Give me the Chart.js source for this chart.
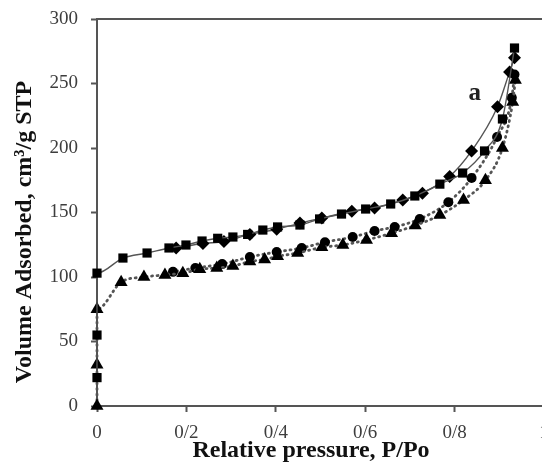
<!DOCTYPE html>
<html>
<head>
<meta charset="utf-8">
<script src="https://cdn.jsdelivr.net/npm/chart.js@4"></script>
<style>
  html, body { margin: 0; padding: 0; background: #fff; overflow: hidden; }
  #wrap { width: 560px; height: 468px; }
</style>
</head>
<body>
<div id="wrap"><canvas id="chart" width="560" height="468"></canvas></div>
<script>
// upper isotherm, adsorption (squares)
const adsUpX = [0, 0, 0, 0.058, 0.112, 0.161, 0.199, 0.235, 0.27, 0.304, 0.337, 0.371, 0.404, 0.454, 0.498, 0.547, 0.601, 0.657, 0.711, 0.767, 0.818, 0.867, 0.907, 0.934];
const adsUpY = [22, 55, 103, 114.7, 118.6, 122.5, 124.8, 127.9, 130, 131, 133, 136.4, 138.8, 140.3, 145, 148.8, 152.7, 156.6, 162.8, 172, 180.6, 197.7, 222.5, 277.5];
// upper isotherm, desorption (diamonds)
const desUpX = [0.934, 0.923, 0.896, 0.838, 0.789, 0.728, 0.684, 0.621, 0.57, 0.503, 0.454, 0.402, 0.342, 0.284, 0.237, 0.177];
const desUpY = [270, 259, 232, 197.7, 178, 165, 159.7, 153.5, 151, 145.7, 141.8, 137, 133, 127.5, 126, 122.5];
// lower isotherm, adsorption (triangles)
const adsLowX = [0, 0, 0, 0.054, 0.105, 0.152, 0.192, 0.23, 0.268, 0.304, 0.342, 0.375, 0.404, 0.449, 0.503, 0.55, 0.603, 0.659, 0.712, 0.767, 0.82, 0.869, 0.907, 0.93, 0.936];
const adsLowY = [0, 32, 75, 96, 100, 101.6, 103, 106, 107, 108.5, 112, 113.5, 116, 118.6, 123, 124.8, 128.7, 134, 140, 148, 159.7, 175, 200, 235.7, 252.7];
// lower isotherm, desorption (circles)
const desLowX = [0.934, 0.928, 0.895, 0.838, 0.786, 0.722, 0.666, 0.621, 0.572, 0.51, 0.458, 0.402, 0.342, 0.28, 0.22, 0.17];
const desLowY = [257, 239, 208.5, 176.7, 158, 145, 138.8, 135.7, 131, 127, 122.5, 119.4, 115.5, 110, 107, 104];

const xTickLabels = ['0', '0/2', '0/4', '0/6', '0/8', '1'];
const yTicks = [0, 50, 100, 150, 200, 250, 300];

function pts(xs, ys) {
  return xs.map((x, i) => ({ x: x, y: ys[i] }));
}

const lineGray = '#555';

function series(xs, ys, style, radius, dotted) {
  return {
    data: pts(xs, ys),
    showLine: true,
    clip: false,
    borderColor: dotted ? '#555' : lineGray,
    borderWidth: dotted ? 2.8 : 1.4,
    borderDash: dotted ? [1, 4.5] : [],
    borderCapStyle: 'round',
    cubicInterpolationMode: 'monotone',
    pointStyle: style,
    pointRadius: radius,
    pointBackgroundColor: '#000',
    pointBorderColor: '#000',
    pointBorderWidth: 0,
    fill: false
  };
}

// frame + titles + label "a"
const extras = {
  id: 'extras',
  afterDraw(chart) {
    const ctx = chart.ctx;
    const a = chart.chartArea;
    ctx.save();
    ctx.strokeStyle = '#555';
    ctx.lineWidth = 2;
    ctx.beginPath();
    ctx.moveTo(a.left, a.top);
    ctx.lineTo(a.right, a.top);
    ctx.lineTo(a.right, a.bottom);
    ctx.stroke();

    ctx.fillStyle = '#111';
    ctx.font = 'bold 24px "Liberation Serif"';
    ctx.textAlign = 'center';
    ctx.textBaseline = 'middle';
    ctx.fillText('Relative pressure, P/Po', 311, 451);

    ctx.translate(25, 232);
    ctx.rotate(-Math.PI / 2);
    ctx.fillText('Volume Adsorbed, cm³/g STP', 0, 0);
    ctx.restore();

    ctx.save();
    ctx.fillStyle = '#222';
    ctx.font = 'bold 25px "Liberation Serif"';
    ctx.textAlign = 'center';
    ctx.textBaseline = 'middle';
    const sx = chart.scales.x, sy = chart.scales.y;
    ctx.fillText('a', sx.getPixelForValue(0.845), sy.getPixelForValue(242));
    ctx.restore();
  }
};

new Chart(document.getElementById('chart'), {
  type: 'scatter',
  data: {
    datasets: [
      series(adsUpX, adsUpY, 'rect', 6.5, false),
      series(desUpX, desUpY, 'rectRot', 6.5, false),
      series(adsLowX, adsLowY, 'triangle', 7.5, true),
      series(desLowX, desLowY, 'circle', 5, true)
    ]
  },
  options: {
    responsive: false,
    animation: false,
    layout: { padding: { left: 0, right: 16, top: 19, bottom: 0 } },
    plugins: { legend: { display: false }, tooltip: { enabled: false } },
    scales: {
      x: {
        type: 'linear',
        min: 0, max: 1,
        afterFit(scale) { scale.height = 62; scale.paddingLeft = 0; scale.paddingRight = 0; },
        afterBuildTicks(scale) {
          scale.ticks = xTickLabels.map((t, i) => ({ value: i * 0.2 }));
        },
        grid: { drawOnChartArea: false, drawTicks: true, tickLength: 6, tickWidth: 2, tickColor: '#555' },
        border: { display: true, color: '#555', width: 2 },
        ticks: {
          padding: 10,
          color: '#3d3d3d',
          font: { family: 'Liberation Serif', size: 19 },
          callback: (v, i) => xTickLabels[i]
        }
      },
      y: {
        min: 0, max: 300,
        afterFit(scale) { scale.width = 97; scale.paddingTop = 0; scale.paddingBottom = 0; },
        afterBuildTicks(scale) {
          scale.ticks = yTicks.map(v => ({ value: v }));
        },
        grid: { drawOnChartArea: false, drawTicks: true, tickLength: 6, tickWidth: 2, tickColor: '#555' },
        border: { display: true, color: '#555', width: 2 },
        ticks: {
          padding: 13,
          color: '#3d3d3d',
          font: { family: 'Liberation Serif', size: 19 }
        }
      }
    }
  },
  plugins: [extras]
});
</script>
</body>
</html>
